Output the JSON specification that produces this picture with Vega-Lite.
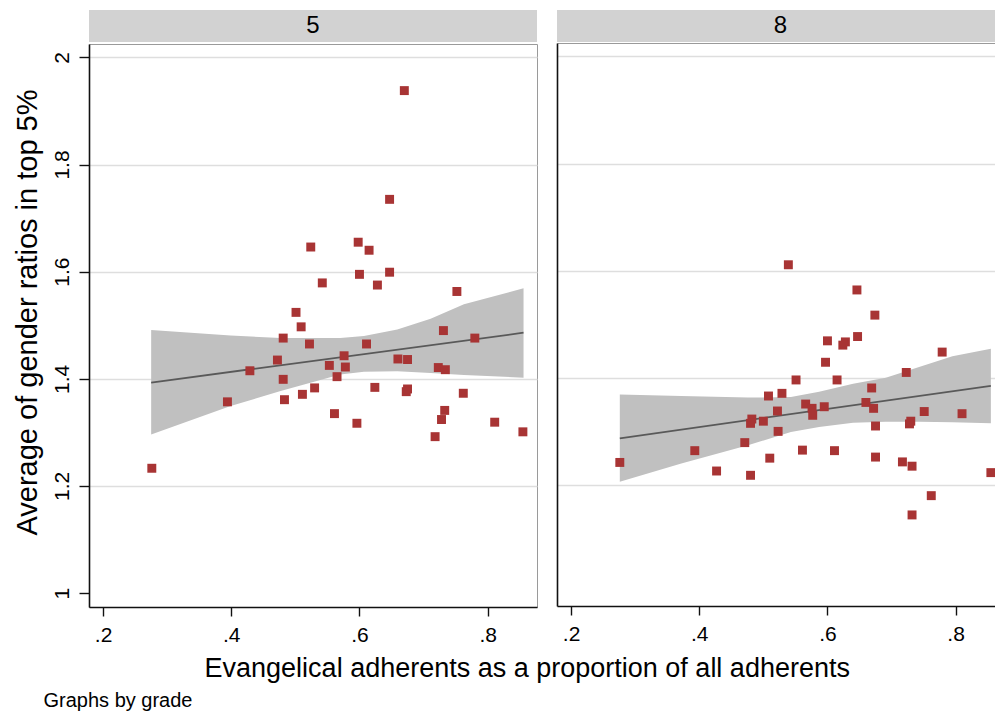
{
  "$schema": "https://vega.github.io/schema/vega-lite/v6.json",
  "background": "white",
  "padding": {"left": 12, "top": 10, "right": 0, "bottom": 2},
  "config": {
    "font": "Liberation Sans",
    "view": {"stroke": "#9a9a9a", "strokeWidth": 1},
    "concat": {"spacing": 19},
    "axis": {
      "domainColor": "#111111",
      "domainWidth": 1.6,
      "tickColor": "#111111",
      "tickWidth": 1.4,
      "labelColor": "#000000",
      "labelFont": "Liberation Sans",
      "labelFontSize": 21,
      "titleColor": "#000000",
      "titleFont": "Liberation Sans",
      "titleFontWeight": "normal"
    }
  },
  "datasets": {
    "points": [
      {"grade": 5, "evangelical": 0.524, "ratio": 1.646},
      {"grade": 5, "evangelical": 0.542, "ratio": 1.579},
      {"grade": 5, "evangelical": 0.501, "ratio": 1.524},
      {"grade": 5, "evangelical": 0.509, "ratio": 1.497},
      {"grade": 5, "evangelical": 0.481, "ratio": 1.476},
      {"grade": 5, "evangelical": 0.522, "ratio": 1.465},
      {"grade": 5, "evangelical": 0.472, "ratio": 1.435},
      {"grade": 5, "evangelical": 0.429, "ratio": 1.415},
      {"grade": 5, "evangelical": 0.553, "ratio": 1.425},
      {"grade": 5, "evangelical": 0.565, "ratio": 1.404},
      {"grade": 5, "evangelical": 0.481, "ratio": 1.399},
      {"grade": 5, "evangelical": 0.394, "ratio": 1.357},
      {"grade": 5, "evangelical": 0.483, "ratio": 1.361},
      {"grade": 5, "evangelical": 0.511, "ratio": 1.371},
      {"grade": 5, "evangelical": 0.530, "ratio": 1.383},
      {"grade": 5, "evangelical": 0.561, "ratio": 1.335},
      {"grade": 5, "evangelical": 0.276, "ratio": 1.233},
      {"grade": 5, "evangelical": 0.670, "ratio": 1.938},
      {"grade": 5, "evangelical": 0.647, "ratio": 1.735},
      {"grade": 5, "evangelical": 0.598, "ratio": 1.655},
      {"grade": 5, "evangelical": 0.615, "ratio": 1.640},
      {"grade": 5, "evangelical": 0.600, "ratio": 1.595},
      {"grade": 5, "evangelical": 0.647, "ratio": 1.599},
      {"grade": 5, "evangelical": 0.628, "ratio": 1.575},
      {"grade": 5, "evangelical": 0.752, "ratio": 1.563},
      {"grade": 5, "evangelical": 0.731, "ratio": 1.490},
      {"grade": 5, "evangelical": 0.780, "ratio": 1.476},
      {"grade": 5, "evangelical": 0.611, "ratio": 1.465},
      {"grade": 5, "evangelical": 0.576, "ratio": 1.443},
      {"grade": 5, "evangelical": 0.578, "ratio": 1.422},
      {"grade": 5, "evangelical": 0.660, "ratio": 1.437},
      {"grade": 5, "evangelical": 0.675, "ratio": 1.436},
      {"grade": 5, "evangelical": 0.723, "ratio": 1.421},
      {"grade": 5, "evangelical": 0.734, "ratio": 1.417},
      {"grade": 5, "evangelical": 0.624, "ratio": 1.384},
      {"grade": 5, "evangelical": 0.675, "ratio": 1.381},
      {"grade": 5, "evangelical": 0.673, "ratio": 1.376},
      {"grade": 5, "evangelical": 0.762, "ratio": 1.373},
      {"grade": 5, "evangelical": 0.596, "ratio": 1.317},
      {"grade": 5, "evangelical": 0.733, "ratio": 1.341},
      {"grade": 5, "evangelical": 0.728, "ratio": 1.324},
      {"grade": 5, "evangelical": 0.718, "ratio": 1.292},
      {"grade": 5, "evangelical": 0.811, "ratio": 1.319},
      {"grade": 5, "evangelical": 0.855, "ratio": 1.301},
      {"grade": 8, "evangelical": 0.539, "ratio": 1.611},
      {"grade": 8, "evangelical": 0.508, "ratio": 1.366},
      {"grade": 8, "evangelical": 0.529, "ratio": 1.371},
      {"grade": 8, "evangelical": 0.522, "ratio": 1.338},
      {"grade": 8, "evangelical": 0.482, "ratio": 1.323},
      {"grade": 8, "evangelical": 0.480, "ratio": 1.315},
      {"grade": 8, "evangelical": 0.500, "ratio": 1.319},
      {"grade": 8, "evangelical": 0.523, "ratio": 1.300},
      {"grade": 8, "evangelical": 0.471, "ratio": 1.279},
      {"grade": 8, "evangelical": 0.393, "ratio": 1.264},
      {"grade": 8, "evangelical": 0.276, "ratio": 1.242},
      {"grade": 8, "evangelical": 0.510, "ratio": 1.250},
      {"grade": 8, "evangelical": 0.427, "ratio": 1.226},
      {"grade": 8, "evangelical": 0.480, "ratio": 1.218},
      {"grade": 8, "evangelical": 0.646, "ratio": 1.564},
      {"grade": 8, "evangelical": 0.674, "ratio": 1.517},
      {"grade": 8, "evangelical": 0.600, "ratio": 1.469},
      {"grade": 8, "evangelical": 0.628, "ratio": 1.467},
      {"grade": 8, "evangelical": 0.624, "ratio": 1.461},
      {"grade": 8, "evangelical": 0.647, "ratio": 1.477},
      {"grade": 8, "evangelical": 0.597, "ratio": 1.429},
      {"grade": 8, "evangelical": 0.779, "ratio": 1.448},
      {"grade": 8, "evangelical": 0.551, "ratio": 1.396},
      {"grade": 8, "evangelical": 0.615, "ratio": 1.396},
      {"grade": 8, "evangelical": 0.723, "ratio": 1.410},
      {"grade": 8, "evangelical": 0.669, "ratio": 1.381},
      {"grade": 8, "evangelical": 0.566, "ratio": 1.351},
      {"grade": 8, "evangelical": 0.576, "ratio": 1.343},
      {"grade": 8, "evangelical": 0.577, "ratio": 1.330},
      {"grade": 8, "evangelical": 0.595, "ratio": 1.346},
      {"grade": 8, "evangelical": 0.660, "ratio": 1.354},
      {"grade": 8, "evangelical": 0.672, "ratio": 1.343},
      {"grade": 8, "evangelical": 0.751, "ratio": 1.337},
      {"grade": 8, "evangelical": 0.810, "ratio": 1.333},
      {"grade": 8, "evangelical": 0.675, "ratio": 1.310},
      {"grade": 8, "evangelical": 0.730, "ratio": 1.319},
      {"grade": 8, "evangelical": 0.728, "ratio": 1.314},
      {"grade": 8, "evangelical": 0.561, "ratio": 1.265},
      {"grade": 8, "evangelical": 0.611, "ratio": 1.264},
      {"grade": 8, "evangelical": 0.675, "ratio": 1.252},
      {"grade": 8, "evangelical": 0.717, "ratio": 1.243},
      {"grade": 8, "evangelical": 0.732, "ratio": 1.235},
      {"grade": 8, "evangelical": 0.855, "ratio": 1.223},
      {"grade": 8, "evangelical": 0.762, "ratio": 1.180},
      {"grade": 8, "evangelical": 0.732, "ratio": 1.144}
    ],
    "ci": [
      {"grade": 5, "evangelical": 0.275, "lower": 1.296, "upper": 1.491},
      {"grade": 5, "evangelical": 0.399, "lower": 1.349, "upper": 1.481},
      {"grade": 5, "evangelical": 0.477, "lower": 1.377, "upper": 1.476},
      {"grade": 5, "evangelical": 0.570, "lower": 1.408, "upper": 1.476},
      {"grade": 5, "evangelical": 0.607, "lower": 1.413, "upper": 1.480},
      {"grade": 5, "evangelical": 0.659, "lower": 1.414, "upper": 1.492},
      {"grade": 5, "evangelical": 0.711, "lower": 1.411, "upper": 1.512},
      {"grade": 5, "evangelical": 0.763, "lower": 1.407, "upper": 1.539},
      {"grade": 5, "evangelical": 0.856, "lower": 1.402, "upper": 1.569},
      {"grade": 8, "evangelical": 0.276, "lower": 1.206, "upper": 1.369},
      {"grade": 8, "evangelical": 0.372, "lower": 1.240, "upper": 1.366},
      {"grade": 8, "evangelical": 0.476, "lower": 1.274, "upper": 1.363},
      {"grade": 8, "evangelical": 0.543, "lower": 1.299, "upper": 1.364},
      {"grade": 8, "evangelical": 0.587, "lower": 1.308, "upper": 1.374},
      {"grade": 8, "evangelical": 0.640, "lower": 1.316, "upper": 1.389},
      {"grade": 8, "evangelical": 0.691, "lower": 1.318, "upper": 1.400},
      {"grade": 8, "evangelical": 0.743, "lower": 1.318, "upper": 1.420},
      {"grade": 8, "evangelical": 0.795, "lower": 1.317, "upper": 1.440},
      {"grade": 8, "evangelical": 0.855, "lower": 1.315, "upper": 1.454}
    ],
    "fit": [
      {"grade": 5, "evangelical": 0.275, "fitted": 1.393},
      {"grade": 5, "evangelical": 0.856, "fitted": 1.486},
      {"grade": 8, "evangelical": 0.276, "fitted": 1.287},
      {"grade": 8, "evangelical": 0.855, "fitted": 1.385}
    ],
    "grades": [
      {"grade": 5},
      {"grade": 8}
    ]
  },
  "title": {
    "text": "Graphs by grade",
    "orient": "bottom",
    "anchor": "start",
    "frame": "bounds",
    "fontSize": 20,
    "fontWeight": "normal",
    "font": "Liberation Sans",
    "color": "#000000",
    "offset": 9,
    "dx": 31
  },
  "vconcat": [
    {
      "title": {
        "text": "Evangelical adherents as a proportion of all adherents",
        "orient": "bottom",
        "anchor": "middle",
        "frame": "bounds",
        "fontSize": 27,
        "fontWeight": "normal",
        "font": "Liberation Sans",
        "color": "#000000",
        "offset": 10,
        "dx": 23
      },
      "hconcat": [
        {
          "spacing": 1,
          "vconcat": [
            {
              "width": 448,
              "height": 32,
              "view": {"fill": "#d2d2d2", "stroke": null},
              "data": {"name": "grades"},
              "transform": [{"filter": "datum.grade == 5"}],
              "mark": {"type": "text", "fontSize": 24, "baseline": "middle", "align": "center", "color": "#000000"},
              "encoding": {"text": {"field": "grade", "type": "nominal"}}
            },
            {
              "width": 448,
              "height": 563,
              "layer": [
                {
                  "data": {"name": "ci"},
                  "transform": [{"filter": "datum.grade == 5"}],
                  "mark": {"type": "area", "color": "#c0c0c0", "opacity": 1},
                  "encoding": {
                    "x": {
                      "field": "evangelical", "type": "quantitative",
                      "scale": {"domain": [0.178, 0.877], "nice": false, "zero": false},
                      "axis": {
                        "title": null, "values": [0.2, 0.4, 0.6, 0.8],
                        "labelExpr": "substring(format(datum.value, '.1f'), 1)",
                        "grid": false, "tickSize": 9, "labelPadding": 8
                      }
                    },
                    "y": {
                      "field": "lower", "type": "quantitative",
                      "scale": {"domain": [0.974, 2.025], "nice": false, "zero": false},
                      "axis": {
                        "title": "Average of gender ratios in top 5%",
                        "titleFontSize": 29, "titlePadding": 9, "titleY": 268,
                        "values": [1, 1.2, 1.4, 1.6, 1.8, 2],
                        "format": "~g",
                        "labelAngle": -90, "labelAlign": "center", "labelBaseline": "bottom",
                        "labelPadding": 7, "tickSize": 10,
                        "grid": true, "gridColor": "#dedede", "gridWidth": 1.5,
                        "gridOpacity": {"condition": {"test": "datum.value < 1.1", "value": 0}, "value": 1}
                      }
                    },
                    "y2": {"field": "upper"}
                  }
                },
                {
                  "data": {"name": "fit"},
                  "transform": [{"filter": "datum.grade == 5"}],
                  "mark": {"type": "line", "color": "#595959", "strokeWidth": 1.8},
                  "encoding": {
                    "x": {"field": "evangelical", "type": "quantitative"},
                    "y": {"field": "fitted", "type": "quantitative"}
                  }
                },
                {
                  "data": {"name": "points"},
                  "transform": [{"filter": "datum.grade == 5"}],
                  "mark": {"type": "square", "size": 80, "color": "#a83434", "opacity": 1, "filled": true},
                  "encoding": {
                    "x": {"field": "evangelical", "type": "quantitative"},
                    "y": {"field": "ratio", "type": "quantitative"}
                  }
                }
              ]
            }
          ]
        },
        {
          "spacing": 1,
          "vconcat": [
            {
              "width": 439,
              "height": 32,
              "view": {"fill": "#d2d2d2", "stroke": null},
              "data": {"name": "grades"},
              "transform": [{"filter": "datum.grade == 8"}],
              "mark": {"type": "text", "fontSize": 24, "baseline": "middle", "align": "center", "color": "#000000", "dx": 4},
              "encoding": {"text": {"field": "grade", "type": "nominal"}}
            },
            {
              "width": 439,
              "height": 563,
              "view": {"stroke": null},
              "resolve": {"axis": {"x": "independent"}},
              "layer": [
                {
                  "data": {"name": "ci"},
                  "transform": [{"filter": "datum.grade == 8"}],
                  "mark": {"type": "area", "color": "#c0c0c0", "opacity": 1},
                  "encoding": {
                    "x": {
                      "field": "evangelical", "type": "quantitative",
                      "scale": {"domain": [0.178, 0.863], "nice": false, "zero": false},
                      "axis": {
                        "title": null, "orient": "bottom", "values": [0.2, 0.4, 0.6, 0.8],
                        "labelExpr": "substring(format(datum.value, '.1f'), 1)",
                        "grid": false, "tickSize": 9, "labelPadding": 8
                      }
                    },
                    "y": {
                      "field": "lower", "type": "quantitative",
                      "scale": {"domain": [0.974, 2.025], "nice": false, "zero": false},
                      "axis": {
                        "title": null, "labels": false, "ticks": false,
                        "values": [1, 1.2, 1.4, 1.6, 1.8, 2],
                        "grid": true, "gridColor": "#dedede", "gridWidth": 1.5,
                        "gridOpacity": {"condition": {"test": "datum.value < 1.1", "value": 0}, "value": 1}
                      }
                    },
                    "y2": {"field": "upper"}
                  }
                },
                {
                  "data": {"name": "fit"},
                  "transform": [{"filter": "datum.grade == 8"}],
                  "mark": {"type": "line", "color": "#595959", "strokeWidth": 1.8},
                  "encoding": {
                    "x": {"field": "evangelical", "type": "quantitative", "axis": null},
                    "y": {"field": "fitted", "type": "quantitative"}
                  }
                },
                {
                  "data": {"name": "points"},
                  "transform": [{"filter": "datum.grade == 8"}],
                  "mark": {"type": "square", "size": 80, "color": "#a83434", "opacity": 1, "filled": true},
                  "encoding": {
                    "x": {
                      "field": "evangelical", "type": "quantitative",
                      "axis": {
                        "orient": "top", "title": null, "labels": false, "ticks": false,
                        "grid": false, "domainColor": "#9a9a9a", "domainWidth": 1
                      }
                    },
                    "y": {"field": "ratio", "type": "quantitative"}
                  }
                }
              ]
            }
          ]
        }
      ]
    }
  ]
}
